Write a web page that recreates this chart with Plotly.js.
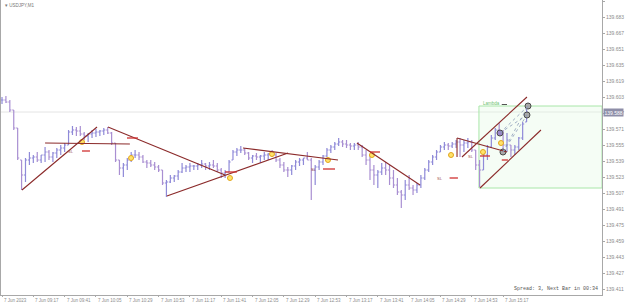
<!DOCTYPE html>
<html><head><meta charset="utf-8">
<script src="https://cdn.plot.ly/plotly-3.0.1.min.js"></script>
<style>html,body{margin:0;padding:0;background:#fff;}#chart{width:625px;height:302px;}</style>
</head><body><div id="chart"></div>
<script>
// 3-minute bars, x in minutes from 08:53 (7 Jun 2023)
const barStepMin = 3;
const firstOpen = 139.600;
const high = [139.603,139.604,139.600,139.590,139.572,139.540,139.542,139.548,139.545,139.548,
139.545,139.553,139.550,139.548,139.552,139.555,139.557,139.570,139.574,139.573,
139.574,139.568,139.567,139.570,139.571,139.570,139.572,139.573,139.568,139.557,
139.540,139.537,139.542,139.548,139.550,139.548,139.545,139.540,139.540,139.538,
139.535,139.530,139.520,139.525,139.525,139.530,139.537,139.535,139.537,139.535,
139.537,139.540,139.537,139.538,139.540,139.537,139.532,139.530,139.540,139.550,
139.552,139.554,139.552,139.548,139.545,139.547,139.545,139.548,139.547,139.550,
139.547,139.542,139.538,139.533,139.535,139.540,139.542,139.542,139.548,139.542,
139.535,139.540,139.545,139.552,139.555,139.558,139.562,139.560,139.560,139.557,
139.557,139.558,139.555,139.550,139.545,139.535,139.530,139.537,139.538,139.535,
139.530,139.522,139.510,139.520,139.525,139.515,139.517,139.525,139.532,139.540,
139.545,139.550,139.555,139.558,139.557,139.558,139.560,139.562,139.560,139.562,
139.560,139.550,139.540,139.550,139.555,139.565,139.572,139.577,139.570,139.567,
139.555,139.555,139.563,139.578,139.592];
const low = [139.596,139.597,139.588,139.570,139.540,139.510,139.518,139.535,139.537,139.538,
139.537,139.538,139.540,139.538,139.542,139.545,139.548,139.555,139.565,139.564,
139.564,139.560,139.558,139.562,139.563,139.564,139.565,139.566,139.555,139.538,
139.525,139.523,139.530,139.538,139.542,139.540,139.537,139.532,139.533,139.530,
139.528,139.515,139.503,139.517,139.518,139.520,139.527,139.528,139.528,139.530,
139.530,139.532,139.530,139.530,139.532,139.528,139.522,139.522,139.528,139.540,
139.544,139.547,139.545,139.540,139.537,139.540,139.537,139.540,139.540,139.543,
139.538,139.532,139.528,139.523,139.525,139.530,139.534,139.535,139.540,139.500,
139.515,139.530,139.535,139.543,139.547,139.550,139.554,139.553,139.552,139.550,
139.550,139.550,139.543,139.535,139.520,139.515,139.512,139.525,139.525,139.515,
139.512,139.505,139.492,139.500,139.510,139.505,139.507,139.512,139.520,139.528,
139.535,139.540,139.548,139.550,139.550,139.552,139.552,139.543,139.548,139.552,
139.548,139.530,139.513,139.530,139.540,139.552,139.560,139.565,139.548,139.548,
139.543,139.545,139.550,139.560,139.578];
const close = [139.600,139.598,139.590,139.572,139.542,139.525,139.540,139.542,139.543,139.540,
139.545,139.548,139.543,139.547,139.550,139.552,139.555,139.568,139.570,139.569,
139.566,139.564,139.566,139.567,139.568,139.569,139.570,139.567,139.557,139.540,
139.532,139.535,139.540,139.545,139.545,139.543,139.538,139.537,139.535,139.533,
139.530,139.517,139.518,139.522,139.524,139.528,139.532,139.533,139.534,139.534,
139.535,139.536,139.534,139.535,139.534,139.530,139.527,139.528,139.538,139.548,
139.550,139.550,139.547,139.542,139.544,139.543,139.544,139.545,139.546,139.545,
139.540,139.535,139.530,139.530,139.534,139.538,139.540,139.542,139.540,139.530,
139.533,139.538,139.544,139.550,139.553,139.556,139.558,139.556,139.555,139.554,
139.555,139.553,139.545,139.540,139.530,139.525,139.528,139.532,139.530,139.522,
139.515,139.508,139.505,139.515,139.512,139.510,139.515,139.522,139.530,139.538,
139.543,139.548,139.553,139.555,139.554,139.556,139.558,139.555,139.557,139.558,
139.550,139.535,139.530,139.545,139.553,139.562,139.570,139.568,139.555,139.560,
139.550,139.553,139.562,139.576,139.588];

const xTickVals = [0,24,48,72,96,120,144,168,192,216,240,264,288,312,336,360,384];
const xTickText = ['7 Jun 2023','7 Jun 09:17','7 Jun 09:41','7 Jun 10:05','7 Jun 10:29','7 Jun 10:53',
 '7 Jun 11:17','7 Jun 11:41','7 Jun 12:05','7 Jun 12:29','7 Jun 12:53','7 Jun 13:17','7 Jun 13:41',
 '7 Jun 14:05','7 Jun 14:29','7 Jun 14:53','7 Jun 15:17'];
const yTickVals = [139.699,139.683,139.667,139.651,139.635,139.619,139.603,139.587,139.571,139.555,
 139.539,139.523,139.507,139.491,139.475,139.459,139.443,139.427,139.411];
const yTickText = ['139.699','139.683','139.667','139.651','139.635','139.619','139.603','139.587','139.571','139.555',
 '139.539','139.523','139.507','139.491','139.475','139.459','139.443','139.427','139.411'];

// drawn objects (minute, price)
const trendLines = [
 [15.3,139.510,72.8,139.573],[33.0,139.557,98.0,139.556],[81.2,139.573,170.9,139.525],
 [126.4,139.504,219.2,139.547],[184.7,139.552,257.5,139.540],[272.0,139.557,320.3,139.515],
 [352.5,139.543,402.3,139.603],[366.3,139.512,413.0,139.570],[348.7,139.562,387.0,139.548],
 [348.7,139.562,348.7,139.543]];
const redDashes = [[61.3,67.4,139.549],[95.8,104.2,139.562],[170.9,180.0,139.528],[246.0,255.2,139.531],
 [282.0,289.7,139.548],[343.0,349.4,139.522],[366.3,374.0,139.544],[383.0,387.7,139.540]];
const slLabelX = [57.0,243.0,339.5,363.0];
const slLabelY = [139.549,139.531,139.522,139.544];
const yellowX = [61.3,98.9,174.7,206.9,249.8,283.5,344.1,368.6,382.4];
const yellowY = [139.558,139.542,139.522,139.546,139.540,139.545,139.545,139.548,139.557];
const grayX = [403.1,402.3,383.9];
const grayY = [139.594,139.585,139.548];
const purpleX = [381.6];
const purpleY = [139.567];
const dottedLines = [[381.6,139.567,403.1,139.594],[383.9,139.548,403.1,139.594],
 [383.9,139.548,402.3,139.585],[381.6,139.567,402.3,139.585]];
const boxX0 = 365.5, boxY0 = 139.512, boxY1 = 139.594;
const bidPrice = close[close.length-1];

const xs = close.map((_, i) => i * barStepMin);
const open = close.map((c, i) => {
  const o = i === 0 ? firstOpen : close[i-1];
  return Math.min(high[i], Math.max(low[i], o));
});

const X0 = -0.77, X1 = 459.8;

const traces = [
 {type:'ohlc', x:xs, open:open, high:high, low:low, close:close, tickwidth:0.4,
  increasing:{line:{color:'#8f8ad8', width:1.2}}, decreasing:{line:{color:'#a98fd2', width:1.2}},
  hoverinfo:'skip', showlegend:false},
 {type:'scatter', mode:'markers', x:yellowX, y:yellowY, hoverinfo:'skip', showlegend:false,
  marker:{size:5, color:'#ffe36b', line:{color:'#e2a51c', width:1}}},
 {type:'scatter', mode:'markers', x:grayX, y:grayY, hoverinfo:'skip', showlegend:false,
  marker:{size:6, color:'#a9a9a9', line:{color:'#4a4a4a', width:1}}},
 {type:'scatter', mode:'markers', x:purpleX, y:purpleY, hoverinfo:'skip', showlegend:false,
  marker:{size:6, color:'#9a86c8', line:{color:'#4a4a4a', width:1}}}
];

const shapes = [];
shapes.push({type:'line', xref:'paper', x0:0, x1:1, yref:'y', y0:bidPrice, y1:bidPrice, line:{color:'#e4e4e4', width:1}, layer:'below'});
shapes.push({type:'rect', xref:'x', yref:'y', x0:boxX0, x1:X1, y0:boxY0, y1:boxY1,
  line:{color:'#a8e6a8', width:1}, fillcolor:'rgba(225,250,225,0.35)', layer:'below'});
trendLines.forEach(t => shapes.push({type:'line', xref:'x', yref:'y', x0:t[0], y0:t[1], x1:t[2], y1:t[3], line:{color:'#8b2a2a', width:1.1}}));
redDashes.forEach(d => shapes.push({type:'line', xref:'x', yref:'y', x0:d[0], x1:d[1], y0:d[2], y1:d[2], line:{color:'#d03030', width:1.3}}));
dottedLines.forEach(t => shapes.push({type:'line', xref:'x', yref:'y', x0:t[0], y0:t[1], x1:t[2], y1:t[3], line:{color:'#8a9ab8', width:0.8, dash:'dot'}}));
shapes.push({type:'line', xref:'x', yref:'y', x0:383, x1:387, y0:139.5955, y1:139.5955, line:{color:'#555', width:1}});

const annotations = [];
xTickVals.forEach((v, i) => annotations.push({x:v, y:0, xref:'x', yref:'paper', text:xTickText[i], showarrow:false,
  xanchor:'left', yanchor:'top', xshift:0, yshift:-1, font:{size:4.5, color:'#8c8c8c', family:'Liberation Sans'}}));
slLabelX.forEach((x, i) => annotations.push({x:x, y:slLabelY[i], xref:'x', yref:'y', text:'SL', showarrow:false,
  xanchor:'right', font:{size:4, color:'#a05050', family:'Liberation Sans'}}));
annotations.push({x:367, y:139.5965, xref:'x', yref:'y', text:'Lambda', showarrow:false, xanchor:'left',
  font:{size:4.5, color:'#6cbf6c', family:'Liberation Sans'}});
annotations.push({x:1, y:bidPrice, xref:'paper', yref:'y', text:bidPrice.toFixed(3), showarrow:false, xanchor:'left',
  xshift:1, bgcolor:'#8e8ea8', borderpad:0.5, font:{size:5, color:'#ffffff', family:'Liberation Sans'}});
annotations.push({x:1, y:0, xref:'paper', yref:'paper', text:'Spread: 3, Next Bar in 00:34', showarrow:false,
  xanchor:'right', yanchor:'bottom', xshift:-2, yshift:1, font:{size:5, color:'#555', family:'Liberation Mono'}});
annotations.push({x:0, y:1, xref:'paper', yref:'paper', text:'▾ USDJPY,M1', showarrow:false,
  xanchor:'left', yanchor:'top', xshift:2, yshift:-1, font:{size:4.5, color:'#777', family:'Liberation Sans'}});

const layout = {
  width:625, height:302, margin:{l:1, r:23, t:0, b:7},
  paper_bgcolor:'#fff', plot_bgcolor:'#fff', showlegend:false,
  xaxis:{range:[X0, X1], showgrid:false, zeroline:false, showline:true, mirror:true, linecolor:'#a8a8a8', linewidth:1,
    tickvals:xTickVals, ticks:'outside', ticklen:1, tickcolor:'#a8a8a8', showticklabels:false,
    rangeslider:{visible:false}, fixedrange:true},
  yaxis:{range:[139.405, 139.700], side:'right', showgrid:false, zeroline:false, showline:true, mirror:true,
    linecolor:'#a8a8a8', linewidth:1, tickvals:yTickVals, ticktext:yTickText, ticks:'outside', ticklen:2,
    tickcolor:'#a8a8a8', tickfont:{size:5, color:'#8c8c8c', family:'Liberation Sans'}, fixedrange:true},
  shapes:shapes, annotations:annotations
};
Plotly.newPlot('chart', traces, layout, {displayModeBar:false, staticPlot:true});
</script></body></html>
